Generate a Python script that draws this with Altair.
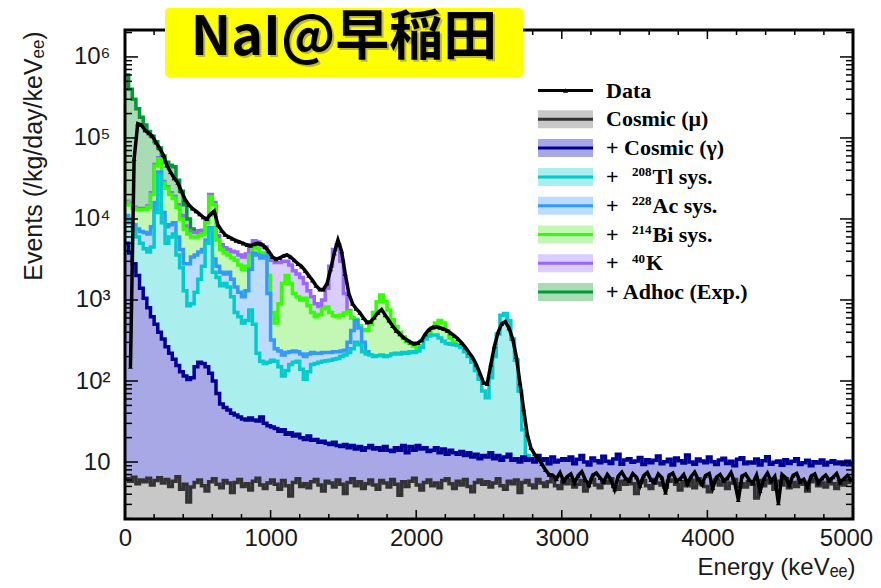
import altair as alt
import pandas as pd

BIN = 25  # keV per bin

# ---------------- data (25 keV bins) ----------------
data_start = 1
data_head = [
    150, 5.5e4, 1.5e5, 1.45e5, 1.25e5, 1.15e5, 1.05e5, 8.8e4, 7.5e4, 6.2e4,
    4.6e4, 3.8e4, 3.2e4, 2.8e4, 2.2e4, 1.75e4, 1.5e4, 1.35e4, 1.25e4, 1.15e4,
    1.05e4, 1.0e4, 1.15e4, 1.25e4, 8.5e3, 7.2e3, 6.4e3, 6.0e3, 5.7e3, 5.4e3,
    5.2e3, 5.0e3, 4.8e3, 4.7e3, 4.9e3, 5.0e3, 4.9e3, 4.5e3, 4.0e3, 3.4e3,
    3.2e3, 3.3e3, 3.5e3, 3.6e3, 3.4e3, 3.1e3, 2.8e3, 2.6e3, 2.3e3, 2.0e3,
    1.75e3, 1.5e3, 1.35e3, 1.35e3, 1.6e3, 2.4e3, 3.8e3, 5.5e3, 4.0e3, 2.1e3,
    1.2e3, 900, 780, 700, 600, 530, 540, 610, 700, 760,
    650, 560, 480, 420, 380, 345, 320, 300, 290, 295,
    320, 380, 430, 460, 470, 455, 440, 420, 390, 360,
    330, 295, 260, 225, 195, 160, 125, 95, 92, 160,
    270, 400, 510, 540, 450, 330, 200, 95, 45, 22,
    15, 12.5, 11, 9.5, 8, 7,
]
data_tail = [
    6.9, 6.2, 7.4, 5.8, 6.6, 7.1, 5.5, 6.8, 7.6, 6.0,
    5.2, 6.9, 7.3, 6.4, 5.7, 7.0, 6.1, 4.6, 6.7, 7.5,
    6.3, 5.9, 7.2, 6.5, 5.1, 6.8, 7.4, 6.0, 5.6, 7.1,
    6.4, 4.2, 6.9, 7.3, 5.8, 6.2, 7.0, 5.4, 6.6, 7.5,
    6.1, 5.3, 6.8, 7.2, 4.8, 6.5, 7.0, 5.9, 6.3, 7.4,
    5.6, 3.4, 6.7, 7.1, 6.0, 5.5, 6.9, 4.4, 6.2, 7.3,
    5.8, 6.6, 3.1, 7.0, 6.4, 5.2, 6.8, 7.2, 5.7, 6.1,
    4.9, 6.7, 7.1, 5.5, 6.3, 6.9, 5.9, 6.5, 7.2, 5.6,
    6.2, 6.8, 6.0,
]
data_vals = data_head + data_tail

cosmic_mu = [
    6.2, 5.8, 6.5, 5.4, 6.0, 5.7, 6.3, 5.2, 5.9, 6.4,
    5.5, 6.1, 5.0, 5.8, 6.6, 4.6, 5.3, 3.2, 4.9, 5.6,
    6.0, 5.1, 4.4, 5.7, 6.2, 5.3, 4.8, 5.9, 5.5, 4.2,
    5.6, 6.1, 5.0, 5.4, 4.5, 5.8, 6.3, 5.2, 4.7, 5.5,
    6.0, 5.3, 4.6, 5.9, 5.1, 3.8, 5.6, 6.2, 5.0, 5.4,
    4.8, 5.7, 6.1, 5.2, 4.4, 5.8, 5.5, 4.9, 6.0, 5.3,
    4.1, 5.6, 6.2, 5.1, 5.7, 4.7, 5.4, 6.0, 5.2, 4.6,
    5.9, 5.5, 4.9, 6.1, 5.3, 3.9, 5.7, 5.0, 5.8, 6.3,
    5.2, 4.5, 5.6, 6.0, 5.1, 5.5, 4.8, 5.9, 6.2, 5.4,
    4.7, 5.8, 5.2, 6.1, 5.0, 4.3, 5.6, 6.0, 5.3, 5.7,
    4.9, 5.5, 6.2, 5.1, 4.6, 5.8, 5.4, 6.0, 4.2, 5.6,
    5.9, 5.2, 4.8, 6.1, 5.5, 5.0, 5.7, 6.3, 5.1, 4.7,
    5.8, 5.4, 6.0, 4.9, 5.3, 5.9, 4.4, 5.6, 6.1, 5.2,
    4.8, 5.7, 5.5, 6.2, 5.0, 4.6, 5.8, 5.3, 6.0, 5.4,
    4.1, 5.6, 5.9, 5.1, 4.7, 6.1, 5.5, 5.2, 4.9, 5.8,
    6.0, 5.3, 4.5, 5.7, 5.1, 5.9, 4.8, 6.2, 5.4, 5.0,
    4.3, 5.6, 6.0, 5.2, 5.8, 4.7, 5.5, 6.1, 5.0, 5.4,
    4.9, 5.7, 5.3, 3.6, 5.9, 5.1, 6.0, 5.5, 4.6, 5.8,
    5.2, 6.2, 4.8, 5.6, 5.0, 5.9, 5.3, 4.4, 5.7, 6.1,
    5.1, 5.5, 4.9, 6.0, 5.4, 4.7, 5.8, 5.2, 5.6, 5.9,
]

gamma_head = [
    5000, 3800, 2800, 2000, 1400, 1050, 800, 620, 500, 400,
    330, 265, 220, 185, 155, 130, 115, 104, 110, 150,
    170, 165, 150, 125, 100, 70, 52, 47, 44, 40,
    38, 36, 34, 33, 35, 33, 32, 36, 30, 28,
    27, 26, 24, 25, 22, 23, 21, 22, 20, 19,
    21, 18.5, 19, 17.5, 18, 17, 16.5, 17.5, 16, 15.5,
    16.5, 15, 16, 14.5, 15.5, 14, 15, 16, 14.5, 15,
    14, 15.5, 14, 13.5, 15, 14, 16, 13, 15.5, 14,
    16, 14.5, 15, 13.5, 14, 15, 13, 14.5, 12.5, 14,
    13, 12.5, 13.5, 12, 13, 11.5, 12.5, 11, 12, 11.5,
    13, 11, 12, 10.5, 11.5, 12.5, 10.5, 11, 10, 11.5,
    10.5, 11, 10, 12, 10.5, 11, 9.5, 11.5, 10, 10.5, 11,
]
gamma_tail = [
    10.5, 11.5, 9.5, 10.8, 12.0, 10.0, 9.2, 11.2, 10.4, 9.8,
    11.8, 10.2, 9.6, 10.9, 12.5, 9.4, 10.6, 11.0, 9.9, 10.3,
    11.4, 9.3, 10.7, 9.8, 10.5, 11.9, 9.5, 10.1, 10.8, 9.2,
    11.2, 10.4, 9.7, 12.2, 10.0, 9.4, 10.9, 10.3, 9.8, 11.5,
    10.1, 9.3, 10.6, 11.1, 9.6, 10.2, 9.0, 10.8, 11.3, 9.5,
    10.0, 9.7, 10.9, 9.2, 10.4, 11.6, 9.4, 9.9, 10.3, 9.1,
    10.7, 9.6, 10.2, 11.0, 9.3, 9.8, 10.5, 9.0, 10.1, 9.7,
    10.6, 9.2, 9.9, 10.4, 9.5, 10.0, 9.3, 10.2, 9.6,
]
cosmic_gamma = gamma_head + gamma_tail

tl_sys = [
    1.0e4, 9.0e3, 7.5e3, 6.0e3, 5.0e3, 4.3e3, 3.9e3, 4.5e3, 1.2e4, 3.5e4,
    9.0e3, 5.0e3, 6.0e3, 6.5e3, 3.6e3, 2.5e3, 1.3e3, 850, 900, 1.25e3,
    1.8e3, 2.6e3, 5.0e3, 7.5e3, 2.2e3, 1.9e3, 1.5e3, 1.6e3, 1.45e3, 1.1e3,
    700, 620, 520, 560, 750, 500, 220, 175, 165, 170,
    180, 175, 150, 115, 135, 160, 170, 175, 140, 105,
    130, 160, 165, 170, 175, 178, 180, 185, 190, 200,
    210, 225, 250, 300, 280, 230, 215, 210, 200, 205,
    210, 200, 205, 215, 220, 215, 225, 220, 230, 225,
    235, 260, 330, 360, 370, 370, 340, 310, 290, 285,
    280, 275, 260, 230, 200, 170, 135, 105, 75, 62,
    110, 200, 380, 650, 680, 560, 330, 180, 75, 25,
    12, 11,
]
ac_sys = [
    1.1e4, 1.0e4, 8.5e3, 7.5e3, 7.0e3, 6.8e3, 6.5e3, 8.0e3, 1.6e4, 3.8e4,
    1.2e4, 8.0e3, 8.5e3, 9.0e3, 6.0e3, 4.2e3, 2.8e3, 2.8e3, 3.4e3, 3.6e3,
    3.9e3, 4.2e3, 5.5e3, 7.8e3, 3.2e3, 2.6e3, 2.2e3, 2.1e3, 2.2e3, 1.8e3,
    1.45e3, 1.25e3, 1.1e3, 1.3e3, 2.4e3, 3.8e3, 3.6e3, 3.3e3, 3.5e3, 1.2e3,
    320, 250, 235, 210, 225, 230, 235, 230, 215, 200,
    215, 225, 220, 220, 225, 225, 225, 230, 230, 235,
    240, 300, 420, 560, 450, 300, 230, 210,
]
bi_sys = [
    1.6e4, 1.5e4, 1.35e4, 1.3e4, 1.3e4, 1.3e4, 1.4e4, 2.0e4, 4.5e4, 5.5e4,
    2.8e4, 2.4e4, 2.0e4, 1.8e4, 1.4e4, 1.0e4, 7.5e3, 6.5e3, 6.0e3, 6.0e3,
    6.2e3, 6.5e3, 9.0e3, 1.9e4, 1.5e4, 5.5e3, 4.2e3, 3.8e3, 3.6e3, 3.3e3,
    3.1e3, 2.7e3, 2.4e3, 2.6e3, 3.6e3, 4.6e3, 4.3e3, 3.8e3, 3.6e3, 2.0e3,
    700, 520, 900, 1.6e3, 2.0e3, 1.6e3, 1.2e3, 1.1e3, 1.0e3, 1.05e3,
    850, 700, 620, 660, 780, 820, 700, 640, 620, 650,
    690, 720, 600, 580, 480, 430, 420, 500, 700, 950,
    1150, 950, 750, 570, 470, 400, 350, 310, 290, 270,
    260, 270, 330, 380, 450, 520, 560, 520, 420, 340,
    300, 280, 260,
]
k40 = [
    1.65e4, 1.55e4, 1.4e4, 1.35e4, 1.35e4, 1.35e4, 1.45e4, 2.1e4, 4.7e4, 5.7e4,
    2.9e4, 2.5e4, 2.1e4, 1.9e4, 1.5e4, 1.1e4, 8.2e3, 7.2e3, 6.8e3, 6.8e3,
    7.0e3, 7.2e3, 9.8e3, 2.0e4, 1.6e4, 6.2e3, 4.8e3, 4.4e3, 4.2e3, 4.0e3,
    3.9e3, 3.6e3, 3.4e3, 3.7e3, 4.6e3, 5.4e3, 5.2e3, 4.8e3, 4.5e3, 3.6e3,
    3.1e3, 2.9e3, 2.9e3, 3.0e3, 3.0e3, 2.7e3, 2.3e3, 2.1e3, 1.9e3, 1.6e3,
    1.3e3, 1.1e3, 900, 830, 1.0e3, 1.4e3, 2.6e3, 4.2e3, 4.8e3, 3.0e3,
    1.2e3, 740, 610,
]
adhoc = [
    6.0e5, 4.0e5, 3.0e5, 2.3e5, 1.8e5, 1.45e5, 1.2e5, 1.05e5, 9.0e4, 7.5e4,
    6.0e4, 5.0e4, 4.6e4, 4.4e4, 3.0e4, 2.2e4, 1.5e4, 1.0e4, 7.5e3, 7.0e3,
    7.1e3, 7.2e3,
]

# legend text: prefix, superscript, main part
legend_prefix = ["Data", "Cosmic (\u03bc)", "+ Cosmic (\u03b3)", "+", "+", "+", "+", "+ Adhoc (Exp.)"]
legend_sup = ["", "", "", "208", "228", "214", "40", ""]
legend_main = ["", "", "", "Tl sys.", "Ac sys.", "Bi sys.", "K", ""]

# name, values, line colour, fill colour  (stack drawn from outermost to innermost)
stack = [
    ("adhoc", adhoc, "#009933", "#a9dcb5"),
    ("k40", k40, "#9966ff", "#dacdff"),
    ("bi", bi_sys, "#33ff00", "#c2f8b3"),
    ("ac", ac_sys, "#3399ff", "#bcdcff"),
    ("tl", tl_sys, "#00cccc", "#abeeee"),
    ("gamma", cosmic_gamma, "#000099", "#a8a8e6"),
    ("mu", cosmic_mu, "#333333", "#c8c8c8"),
]

x_major = [0, 1000, 2000, 3000, 4000, 5000]
x_minor = [v for v in range(0, 5001, 200) if v % 1000]
y_major = [10, 100, 1e3, 1e4, 1e5, 1e6]
YMIN, YMAX = 1.98, 2.15e6
y_minor = [k * 10 ** n for n in range(0, 7) for k in range(2, 10) if YMIN <= k * 10 ** n <= YMAX]

W, H = 728, 489

# ---------------- chart ----------------
xs = alt.Scale(domain=[0, 5000], nice=False, zero=False)
ys = alt.Scale(type="log", domain=[YMIN, YMAX], nice=False)

x_axis = alt.Axis(values=x_major, format="d", ticks=False, domain=False, grid=False,
                  labelFont="Liberation Sans", labelFontSize=24, labelColor="#1a1a1a",
                  labelPadding=7, labelFlush=False, labelOverlap=False,
                  labelOffset={"condition": {"test": "datum.value >= 5000", "value": -7},
                               "value": 0},
                  title="Energy (keV\u2091\u2091)", titleFont="Liberation Sans",
                  titleFontSize=24, titleFontWeight="normal", titleColor="#1a1a1a",
                  titleAlign="right", titleX=730, titleY=55, titleBaseline="alphabetic")
y_label_expr = ("datum.value >= 999999 ? '10\u2076' : datum.value >= 99999 ? '10\u2075' : "
                "datum.value >= 9999 ? '10\u2074' : datum.value >= 999 ? '10\u00b3' : "
                "datum.value >= 99 ? '10\u00b2' : '10'")
y_axis = alt.Axis(values=y_major, ticks=False, domain=False, grid=False,
                  labelExpr=y_label_expr, labelFont="Liberation Sans", labelFontSize=24,
                  labelColor="#1a1a1a", labelPadding=15,
                  title="Events (/kg/day/keV\u2091\u2091)", titleFont="Liberation Sans",
                  titleFontSize=25, titleFontWeight="normal", titleColor="#1a1a1a",
                  titleAngle=270, titleAlign="right", titleBaseline="alphabetic",
                  titleX=-84, titleY=1)

X = alt.X("x:Q", scale=xs, axis=x_axis)
Y = alt.Y("y:Q", scale=ys, axis=y_axis)


def steps(vals, start=0):
    xv = [BIN * (start + i) for i in range(len(vals))] + [BIN * (start + len(vals))]
    yv = list(vals) + [vals[-1]]
    return pd.DataFrame({"x": xv, "y": yv})


layers = []
for name, vals, lc, fc in stack:
    df = steps(vals)
    layers.append(alt.Chart(df).mark_area(interpolate="step-after", color=fc, clip=True)
                  .encode(x=X, y=Y, y2=alt.datum(YMIN)))
    layers.append(alt.Chart(df).mark_line(interpolate="step-after", color=lc,
                                          strokeWidth=3.5, clip=True)
                  .encode(x=X, y=Y))

data_df = pd.DataFrame({"x": [BIN * (data_start + i) + BIN / 2 for i in range(len(data_vals))],
                        "y": data_vals})
layers.append(alt.Chart(data_df).mark_line(color="black", strokeWidth=3.5, clip=True)
              .encode(x=X, y=Y))
layers.append(alt.Chart(data_df).mark_point(shape="triangle-up", filled=True, size=24,
                                            color="black", opacity=1, clip=True)
              .encode(x=X, y=Y))

# inward ticks on all four sides
tick_style = dict(color="black", strokeWidth=1.5)
for vals, ln in ((x_major, 9), (x_minor, 5)):
    tdf = pd.DataFrame({"x": vals})
    layers.append(alt.Chart(tdf).mark_rule(**tick_style)
                  .encode(x=X, y=alt.value(H), y2=alt.value(H - ln)))
    layers.append(alt.Chart(tdf).mark_rule(**tick_style)
                  .encode(x=X, y=alt.value(0), y2=alt.value(ln)))
for vals, ln in ((y_major, 13), (y_minor, 7)):
    tdf = pd.DataFrame({"y": vals})
    layers.append(alt.Chart(tdf).mark_rule(**tick_style)
                  .encode(y=Y, x=alt.value(0), x2=alt.value(ln)))
    layers.append(alt.Chart(tdf).mark_rule(**tick_style)
                  .encode(y=Y, x=alt.value(W), x2=alt.value(W - ln)))

# frame
one = pd.DataFrame({"a": [0]})
layers.append(alt.Chart(one).mark_rect(fillOpacity=0, stroke="black", strokeWidth=3)
              .encode(x=alt.value(0), x2=alt.value(W), y=alt.value(0), y2=alt.value(H)))

# legend
leg_line_colors = ["black"] + [s[2] for s in stack[::-1]]
leg_fill_colors = [None] + [s[3] for s in stack[::-1]]
serif = dict(font="Liberation Serif", fontWeight="bold", color="black", align="left")
for i in range(len(legend_prefix)):
    cy = 60.5 + 28.8 * i
    if leg_fill_colors[i] is not None:
        layers.append(alt.Chart(one).mark_rect(color=leg_fill_colors[i])
                      .encode(x=alt.value(413), x2=alt.value(468),
                              y=alt.value(cy - 9), y2=alt.value(cy + 9)))
    layers.append(alt.Chart(one).mark_rule(color=leg_line_colors[i], strokeWidth=3)
                  .encode(x=alt.value(413), x2=alt.value(468), y=alt.value(cy)))
    if i == 0:
        layers.append(alt.Chart(one).mark_point(shape="triangle-up", filled=True, size=26,
                                                color="black", opacity=1)
                      .encode(x=alt.value(440.5), y=alt.value(cy)))
    tdf = pd.DataFrame({"t": [legend_prefix[i]]})
    layers.append(alt.Chart(tdf).mark_text(fontSize=22, baseline="middle", **serif)
                  .encode(x=alt.value(481), y=alt.value(cy), text="t:N"))
    if legend_sup[i]:
        sdf = pd.DataFrame({"t": [legend_sup[i]]})
        layers.append(alt.Chart(sdf).mark_text(fontSize=13, baseline="alphabetic", **serif)
                      .encode(x=alt.value(507), y=alt.value(cy - 0.5), text="t:N"))
        mdf = pd.DataFrame({"t": [legend_main[i]]})
        layers.append(alt.Chart(mdf).mark_text(fontSize=22, baseline="middle", **serif)
                      .encode(x=alt.value(508 + 6.5 * len(legend_sup[i])), y=alt.value(cy),
                              text="t:N"))

# title box
layers.append(alt.Chart(one).mark_rect(color="#ffff00", cornerRadius=4)
              .encode(x=alt.value(40), x2=alt.value(398), y=alt.value(-22), y2=alt.value(47)))
title_df = pd.DataFrame({"t": ["NaI@\u65e9\u7a32\u7530"]})
layers.append(alt.Chart(title_df).mark_text(font="Noto Sans CJK JP", fontWeight="bold",
                                            fontSize=54, align="center",
                                            baseline="alphabetic", color="#777777",
                                            opacity=0.5, dx=2, dy=2)
              .encode(x=alt.value(219), y=alt.value(25), text="t:N"))
layers.append(alt.Chart(title_df).mark_text(font="Noto Sans CJK JP", fontWeight="bold",
                                            fontSize=54, align="center",
                                            baseline="alphabetic", color="black")
              .encode(x=alt.value(219), y=alt.value(25), text="t:N"))

chart = (alt.layer(*layers)
         .properties(width=W, height=H,
                     padding={"left": 117, "top": 22, "right": 20, "bottom": 61},
                     autosize=alt.AutoSizeParams(type="none"),
                     background="white")
         .configure_view(strokeWidth=0))

chart.save("out.html", embed_options={"renderer": "svg", "actions": False})
